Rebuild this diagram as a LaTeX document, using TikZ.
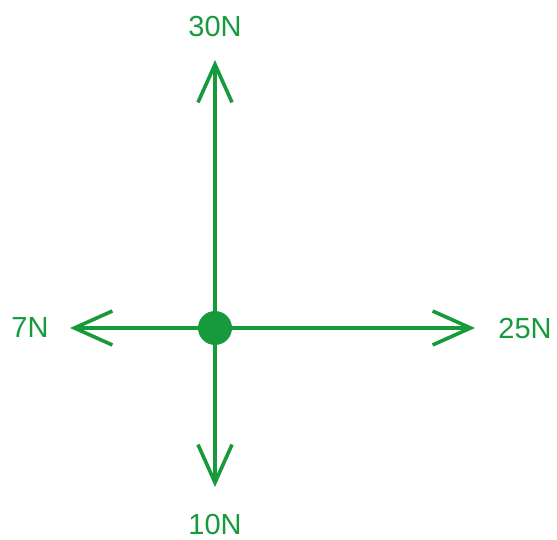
\documentclass[tikz,border=0pt]{standalone}
\usepackage{fontspec}
\setmainfont{Liberation Sans}
\usetikzlibrary{arrows.meta,positioning}

\definecolor{forcegreen}{RGB}{22,154,60}

\begin{document}
\begin{tikzpicture}[x=1pt,y=-1pt,
		force/.style={draw=forcegreen, line width=3.6pt, line cap=round,
			-{Straight Barb[length=38pt,width=34pt,line width=3.6pt]}},
		lbl/.style={text=forcegreen, font=\fontsize{29}{31}\selectfont, inner sep=0pt, text depth=0pt}]
		\useasboundingbox (0,0) rectangle (557,540);

		\node[circle, fill=forcegreen, minimum size=34pt, inner sep=0pt] (o) at (215,328) {};

		\coordinate (up) at (215,60);
		\coordinate (down) at (215,487);
		\coordinate (left) at (70,328);
		\coordinate (right) at (475,328);

		\node[lbl] (n30) at (215,26) {30N};
		\node[lbl] (n10) at (215,524) {10N};
		\node[lbl] (n7) at (30,328) {7N};
		\node[lbl] (n25) at (525,328) {25N};

		\draw[force] (o.center)--(up);
		\draw[force] (o.center)--(down);
		\draw[force] (o.center)--(left);
		\draw[force] (o.center)--(right);
	\end{tikzpicture}
\end{document}
